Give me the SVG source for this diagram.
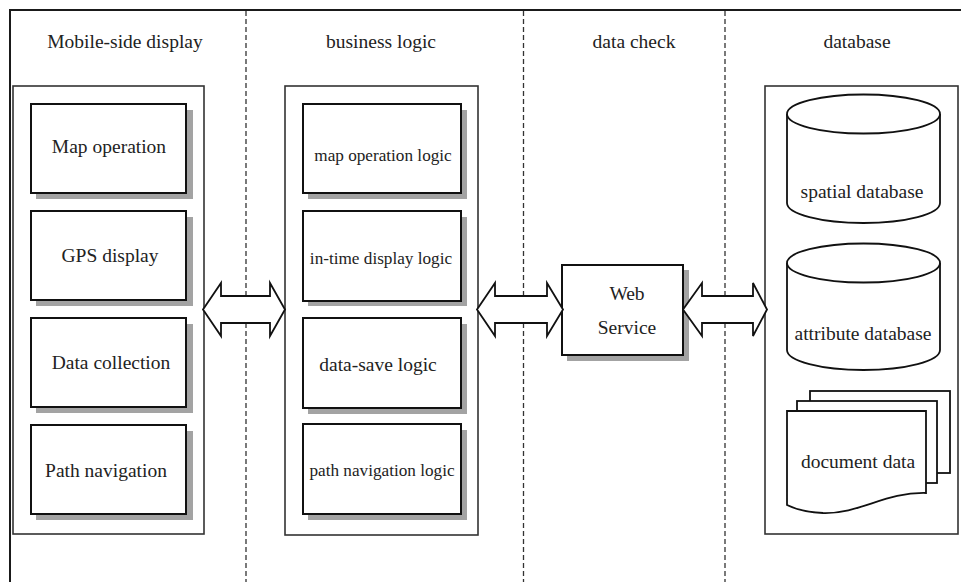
<svg xmlns="http://www.w3.org/2000/svg" width="961" height="582" viewBox="0 0 961 582">
  <defs>
    <style>
      text { font-family: "Liberation Serif", "Times New Roman", serif; fill: #222; }
      .hdr { font-size: 19.5px; text-anchor: middle; }
      .lbl { font-size: 19.5px; text-anchor: middle; }
      .sm { font-size: 17.2px; text-anchor: middle; }
      .frame { fill: none; stroke: #1a1a1a; stroke-width: 2; }
      .lane { stroke: #333; stroke-width: 1.3; stroke-dasharray: 5 3; fill: none; }
      .container { fill: #fff; stroke: #333; stroke-width: 1.6; }
      .box { fill: #fff; stroke: #111; stroke-width: 2; }
      .shadow { fill: #a3a3a3; }
      .shape { fill: #fff; stroke: #111; stroke-width: 1.8; }
      .arrow { fill: #fff; stroke: #111; stroke-width: 1.8; stroke-linejoin: miter; }
    </style>
  </defs>

  <rect width="961" height="582" fill="#fff"/>

  <!-- outer frame (top and left edges) -->
  <path class="frame" d="M10,582 V10 H961"/>

  <!-- lane separators -->
  <g id="lanes">
    <line class="lane" x1="246" y1="11" x2="246" y2="582"/>
    <line class="lane" x1="523.5" y1="11" x2="523.5" y2="582"/>
    <line class="lane" x1="725" y1="11" x2="725" y2="582"/>
  </g>

  <!-- lane headings -->
  <text class="hdr" x="125" y="48">Mobile-side display</text>
  <text class="hdr" x="381" y="48">business logic</text>
  <text class="hdr" x="634" y="48">data check</text>
  <text class="hdr" x="857" y="48">database</text>

  <!-- mobile-side display -->
  <g id="mobile">
    <rect class="container" x="13" y="86" width="191" height="448"/>
    <g id="map-operation">
      <rect class="shadow" x="36" y="110" width="157" height="89"/>
      <rect class="box" x="31" y="104" width="155" height="89"/>
      <text class="lbl" x="109" y="153">Map operation</text>
    </g>
    <g id="gps-display">
      <rect class="shadow" x="36" y="217" width="157" height="89"/>
      <rect class="box" x="31" y="211" width="155" height="89"/>
      <text class="lbl" x="110" y="262">GPS display</text>
    </g>
    <g id="data-collection">
      <rect class="shadow" x="36" y="324" width="157" height="89"/>
      <rect class="box" x="31" y="318" width="155" height="89"/>
      <text class="lbl" x="111" y="369">Data collection</text>
    </g>
    <g id="path-navigation">
      <rect class="shadow" x="36" y="431" width="157" height="89"/>
      <rect class="box" x="31" y="425" width="155" height="89"/>
      <text class="lbl" x="106" y="477">Path navigation</text>
    </g>
  </g>

  <!-- business logic -->
  <g id="business">
    <rect class="container" x="285" y="86" width="193" height="449"/>
    <g id="map-operation-logic">
      <rect class="shadow" x="308" y="110" width="159" height="89"/>
      <rect class="box" x="303" y="104" width="158" height="89"/>
      <text class="sm" x="383" y="161">map operation logic</text>
    </g>
    <g id="in-time-display-logic">
      <rect class="shadow" x="308" y="217" width="159" height="89"/>
      <rect class="box" x="303" y="211" width="158" height="90"/>
      <text class="sm" x="381" y="264">in-time display logic</text>
    </g>
    <g id="data-save-logic">
      <rect class="shadow" x="308" y="324" width="159" height="90"/>
      <rect class="box" x="303" y="318" width="158" height="90"/>
      <text class="lbl" x="378" y="371">data-save logic</text>
    </g>
    <g id="path-navigation-logic">
      <rect class="shadow" x="308" y="430" width="159" height="90"/>
      <rect class="box" x="303" y="424" width="158" height="90"/>
      <text class="sm" x="382" y="476">path navigation logic</text>
    </g>
  </g>

  <!-- data check -->
  <g id="web-service">
    <rect class="shadow" x="567" y="270" width="122" height="91"/>
    <rect class="box" x="562" y="265" width="121" height="90"/>
    <text class="lbl" x="627" y="300" font-size="20px">Web</text>
    <text class="lbl" x="627" y="334" font-size="20px">Service</text>
  </g>

  <!-- database -->
  <g id="database">
    <rect class="container" x="765" y="86" width="193" height="448"/>
    <g id="spatial-database">
      <path class="shape" d="M787,114 V203 A76.5,20 0 0 0 940,203 V114"/>
      <ellipse class="shape" cx="863.5" cy="114" rx="76.5" ry="19.5"/>
      <text class="lbl" x="862" y="198">spatial database</text>
    </g>
    <g id="attribute-database">
      <path class="shape" d="M787,263 V350 A76.5,20 0 0 0 940,350 V263"/>
      <ellipse class="shape" cx="863.5" cy="263" rx="76.5" ry="19.5"/>
      <text class="lbl" x="863" y="340">attribute database</text>
    </g>
    <g id="document-data">
      <rect class="shape" x="810" y="391" width="140" height="82"/>
      <rect class="shape" x="797" y="401" width="140" height="82"/>
      <path class="shape" d="M787,411 H926 V493 C885,492 860,514 823,513 C805,512 795,509 787,505 Z"/>
      <text class="lbl" x="858" y="468">document data</text>
    </g>
  </g>

  <!-- connectors: double-headed block arrows -->
  <g id="connectors">
    <path class="arrow" d="M203,309.5 L221,283 V296 H270 V283 L285,309.5 L270,336 V323 H221 V336 Z"/>
    <path class="arrow" d="M477,309.5 L495,283 V296 H547 V283 L563,309.5 L547,336 V323 H495 V336 Z"/>
    <path class="arrow" d="M683,309.5 L702,283 V296 H753 V283 L767,309.5 L753,336 V323 H702 V336 Z"/>
  </g>
</svg>
